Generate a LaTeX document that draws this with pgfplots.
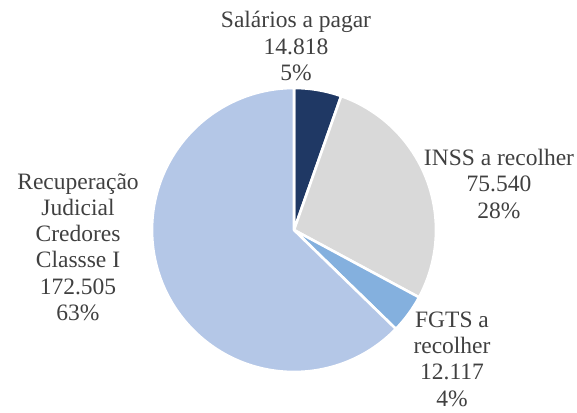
\documentclass[border=0pt]{standalone}
\usepackage{pgfplots}
\pgfplotsset{compat=1.18}
\usepackage{fontspec}
\setmainfont{Liberation Serif}
\definecolor{txt}{HTML}{404040}
\definecolor{sal}{HTML}{1F3864}
\definecolor{inss}{HTML}{D9D9D9}
\definecolor{fgts}{HTML}{84B0DE}
\definecolor{rec}{HTML}{B4C7E7}

% values (R$ mil)
\def\vSal{14.818}
\def\vInss{75.540}
\def\vFgts{12.117}
\def\vRec{172.505}

\tikzset{
  lbl/.style={font=\fontsize{23.5}{26.3}\selectfont, text=txt, align=center, inner sep=0pt},
  wedge/.style={draw=white, line width=2.6pt, line join=round},
}

\begin{document}
\begin{tikzpicture}
\pgfmathsetmacro{\tot}{\vSal+\vInss+\vFgts+\vRec}
\pgfmathsetmacro{\aA}{90}
\pgfmathsetmacro{\aB}{\aA-360*(\vSal/\tot)}
\pgfmathsetmacro{\aC}{\aB-360*(\vInss/\tot)}
\pgfmathsetmacro{\aD}{\aC-360*(\vFgts/\tot)}
\pgfmathsetmacro{\aE}{-270}
\begin{axis}[
  x=1pt, y=1pt, xmin=0, xmax=577, ymin=0, ymax=412,
  hide axis, clip=false,
]
\path (axis cs:0,0) rectangle (axis cs:577,412);
\def\R{142pt}
\fill[sal, wedge] (axis cs:294,182) -- ++(\aA:\R) arc[start angle=\aA, end angle=\aB, radius=\R] -- cycle;
\fill[inss, wedge] (axis cs:294,182) -- ++(\aB:\R) arc[start angle=\aB, end angle=\aC, radius=\R] -- cycle;
\fill[fgts, wedge] (axis cs:294,182) -- ++(\aC:\R) arc[start angle=\aC, end angle=\aD, radius=\R] -- cycle;
\fill[rec, wedge] (axis cs:294,182) -- ++(\aD:\R) arc[start angle=\aD, end angle=\aE, radius=\R] -- cycle;

\node[lbl] at (axis cs:296,366) {Salários a pagar\\14.818\\5\%};
\node[lbl] at (axis cs:499,228) {INSS a recolher\\75.540\\28\%};
\node[lbl] at (axis cs:452,53) {FGTS a\\recolher\\12.117\\4\%};
\node[lbl] at (axis cs:78,165) {Recuperação\\Judicial\\Credores\\Classse I\\172.505\\63\%};
\end{axis}
\end{tikzpicture}
\end{document}
